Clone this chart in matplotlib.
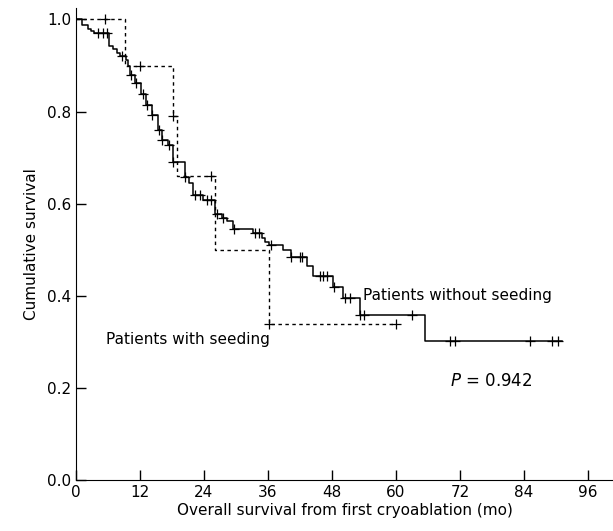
import numpy as np
import matplotlib
matplotlib.use("Agg")
import matplotlib.pyplot as plt

# patients without seeding: step times (mo) and survival after each step
no_seed_t = [0, 1.2, 2.2, 2.8, 3.4, 6.2, 6.9, 7.6, 8.2, 9.4, 9.7, 10.2, 11.1, 12.1,
             13.1, 14.2, 15.3, 16.1, 17.2, 18.1, 20.4, 21.2, 22.0, 23.75, 26.1,
             27.3, 28.3, 29.4, 33.25, 34.8, 35.4, 36.25, 38.9, 40.4, 43.3, 44.4,
             48.25, 50.1, 53.25, 65.4]
no_seed_s = [1.0, 0.988, 0.980, 0.975, 0.970, 0.942, 0.935, 0.928, 0.920, 0.912,
             0.900, 0.879, 0.861, 0.839, 0.814, 0.792, 0.760, 0.738, 0.727, 0.691,
             0.659, 0.646, 0.619, 0.607, 0.578, 0.569, 0.563, 0.545, 0.536, 0.525,
             0.516, 0.511, 0.500, 0.484, 0.464, 0.442, 0.419, 0.395, 0.359, 0.301]
no_seed_end = 91.1
no_seed_cens = [4.1, 5.0, 5.9, 8.7, 10.3, 11.3, 12.6, 13.3, 14.3, 15.5, 16.2, 17.4,
                18.2, 20.5, 22.3, 23.25, 24.5, 25.3, 26.5, 27.6, 29.6, 33.6, 34.4,
                36.5, 40.4, 42.0, 42.4, 45.8, 46.4, 47.0, 48.3, 50.4, 51.4, 53.3,
                54.0, 63.1, 70.1, 71.1, 85.1, 89.2, 90.3]

# patients with seeding
seed_t = [0, 9.2, 18.25, 19.0, 26.1, 36.2]
seed_s = [1.0, 0.900, 0.790, 0.660, 0.500, 0.338]
seed_end = 60.1
seed_cens = [5.4, 12.0, 18.25, 25.3, 36.2, 60.1]

x_ticks = [0, 12, 24, 36, 48, 60, 72, 84, 96]
y_ticks = [0.0, 0.2, 0.4, 0.6, 0.8, 1.0]


def step_xy(t, s, end):
    return list(t) + [end], list(s) + [s[-1]]


def surv_at(t, s, times):
    idx = np.searchsorted(t, times, side="right") - 1
    return np.asarray(s)[idx]


fig = plt.figure(figsize=(6.13, 5.31), dpi=100)
ax = fig.add_axes([0.124, 0.096, 0.876, 0.889])

x, y = step_xy(no_seed_t, no_seed_s, no_seed_end)
ax.step(x, y, where="post", color="black", lw=1.1)
ax.plot(no_seed_cens, surv_at(no_seed_t, no_seed_s, no_seed_cens), ls="none",
        marker="+", ms=6.5, mew=0.9, color="black")

x, y = step_xy(seed_t, seed_s, seed_end)
ax.step(x, y, where="post", color="black", lw=1.0, ls=(0, (2.5, 2.5)))
ax.plot(seed_cens, surv_at(seed_t, seed_s, seed_cens), ls="none",
        marker="+", ms=6.5, mew=0.9, color="black")

ax.set_xlim(0, 100.7)
ax.set_ylim(0, 1.025)
ax.set_xticks(x_ticks)
ax.set_yticks(y_ticks)
ax.set_yticklabels(["%.1f" % v for v in y_ticks])
ax.tick_params(direction="in", length=7, width=1, labelsize=11)
ax.spines["top"].set_visible(False)
ax.spines["right"].set_visible(False)

ax.set_xlabel("Overall survival from first cryoablation (mo)", fontsize=11, labelpad=2)
ax.set_ylabel("Cumulative survival", fontsize=11, labelpad=6)

ax.text(71.5, 0.40, "Patients without seeding", fontsize=11, ha="center", va="center")
ax.text(20.9, 0.305, "Patients with seeding", fontsize=11, ha="center", va="center")
ax.text(77.9, 0.216, "$\\it{P}$ = 0.942", fontsize=12, ha="center", va="center")

fig.savefig("out.png", dpi=100)
